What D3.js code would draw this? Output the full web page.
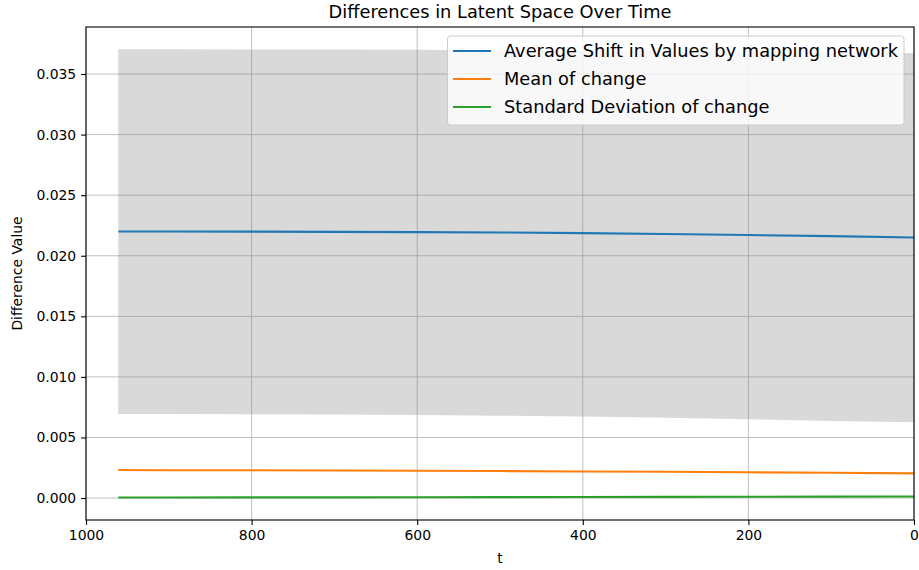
<!DOCTYPE html>
<html>
<head>
<meta charset="utf-8">
<script src="https://cdn.jsdelivr.net/npm/d3@7"></script>
<style>
  body { margin: 0; background: #fff; }
  svg { display: block; font-family: "DejaVu Sans", sans-serif; }
</style>
</head>
<body>
<div id="chart"></div>
<script>
// ---------- data ----------
const timesteps = [961, 900, 800, 700, 600, 500, 400, 300, 200, 100, 0];
const avgShift  = [0.02200, 0.02200, 0.02199, 0.02197, 0.02195, 0.02192, 0.02187, 0.02180, 0.02171, 0.02162, 0.02151];
const bandUpper = [0.03704, 0.03704, 0.03703, 0.03702, 0.03700, 0.03697, 0.03694, 0.03690, 0.03685, 0.03679, 0.03672];
const bandLower = [0.00693, 0.00693, 0.00691, 0.00689, 0.00685, 0.00680, 0.00673, 0.00663, 0.00650, 0.00637, 0.00625];
const meanChange = [0.00231, 0.00230, 0.00229, 0.00227, 0.00225, 0.00223, 0.00220, 0.00217, 0.00213, 0.00209, 0.00204];
const stdChange  = [0.00005, 0.00005, 0.00006, 0.00006, 0.00007, 0.00008, 0.00009, 0.00010, 0.00011, 0.00012, 0.00013];

const xTicks = [1000, 800, 600, 400, 200, 0];
const yTicks = [0, 0.005, 0.01, 0.015, 0.02, 0.025, 0.03, 0.035];

const seriesNames = ["Average Shift in Values by mapping network", "Mean of change", "Standard Deviation of change"];
const seriesColors = ["#1f77b4", "#ff7f0e", "#2ca02c"];

// ---------- layout ----------
const width = 919;
const height = 570;
const margin = {top: 27, right: 5, bottom: 50, left: 86};

const svg = d3.select("#chart").append("svg")
  .attr("width", width)
  .attr("height", height);

const x = d3.scaleLinear().domain([1000, 0]).range([margin.left, width - margin.right]);
const y = d3.scaleLinear().domain([-0.00181, 0.03888]).range([height - margin.bottom, margin.top]);

const rows = timesteps.map((t, i) => ({
  t, avg: avgShift[i], up: bandUpper[i], lo: bandLower[i], mean: meanChange[i], std: stdChange[i]
}));

// grid
const grid = svg.append("g").attr("stroke", "#b0b0b0").attr("stroke-width", 0.8);
grid.selectAll(".gx").data(xTicks).join("line")
  .attr("x1", d => x(d)).attr("x2", d => x(d))
  .attr("y1", margin.top).attr("y2", height - margin.bottom);
grid.selectAll(".gy").data(yTicks).join("line")
  .attr("y1", d => y(d)).attr("y2", d => y(d))
  .attr("x1", margin.left).attr("x2", width - margin.right);

// band
const area = d3.area().x(d => x(d.t)).y0(d => y(d.lo)).y1(d => y(d.up));
svg.append("path").datum(rows)
  .attr("d", area)
  .attr("fill", "gray")
  .attr("fill-opacity", 0.3);

// lines
const keys = ["avg", "mean", "std"];
keys.forEach((k, i) => {
  svg.append("path").datum(rows)
    .attr("fill", "none")
    .attr("stroke", seriesColors[i])
    .attr("stroke-width", 2.08)
    .attr("d", d3.line().x(d => x(d.t)).y(d => y(d[k])));
});

// axes
const xAxis = svg.append("g")
  .attr("transform", `translate(0,${height - margin.bottom})`)
  .call(d3.axisBottom(x).tickValues(xTicks).tickFormat(d3.format("d")).tickSizeOuter(0).tickSize(4.9).tickPadding(4.9));
const yAxis = svg.append("g")
  .attr("transform", `translate(${margin.left},0)`)
  .call(d3.axisLeft(y).tickValues(yTicks).tickFormat(d3.format(".3f")).tickSizeOuter(0).tickSize(4.9).tickPadding(4.9));
[xAxis, yAxis].forEach(a => {
  a.select(".domain").remove();
  a.selectAll(".tick line").attr("stroke", "#000").attr("stroke-width", 1.1);
  a.selectAll(".tick text").attr("font-size", "13.9px").attr("fill", "#000")
    .attr("font-family", "DejaVu Sans");
});

// frame
svg.append("rect")
  .attr("x", margin.left).attr("y", margin.top)
  .attr("width", width - margin.left - margin.right)
  .attr("height", height - margin.top - margin.bottom)
  .attr("fill", "none").attr("stroke", "#000").attr("stroke-width", 1.1);

// title and labels
svg.append("text")
  .attr("x", (margin.left + width - margin.right) / 2).attr("y", 18)
  .attr("text-anchor", "middle").attr("font-size", "17.8px")
  .text("Differences in Latent Space Over Time");
svg.append("text")
  .attr("x", (margin.left + width - margin.right) / 2).attr("y", 563)
  .attr("text-anchor", "middle").attr("font-size", "13.9px")
  .text("t");
svg.append("text")
  .attr("transform", `translate(22,${(margin.top + height - margin.bottom) / 2}) rotate(-90)`)
  .attr("text-anchor", "middle").attr("font-size", "13.9px")
  .text("Difference Value");

// legend
const legend = svg.append("g");
legend.append("rect")
  .attr("x", 447.5).attr("y", 36).attr("width", 456.5).attr("height", 89)
  .attr("rx", 3).attr("fill", "#fff").attr("fill-opacity", 0.8)
  .attr("stroke", "#cccccc").attr("stroke-width", 1);
seriesNames.forEach((name, i) => {
  const yy = 51 + i * 28;
  legend.append("line")
    .attr("x1", 453).attr("x2", 491).attr("y1", yy).attr("y2", yy)
    .attr("stroke", seriesColors[i]).attr("stroke-width", 2.08);
  legend.append("text")
    .attr("x", 504).attr("y", yy).attr("dy", "0.36em")
    .attr("font-size", "17.8px").attr("fill", "#000")
    .text(name);
});
</script>
</body>
</html>
